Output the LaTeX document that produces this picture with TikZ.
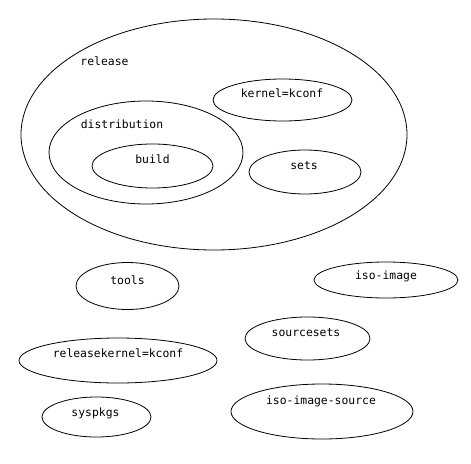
\documentclass[tikz,border=0pt]{standalone}
\usepackage{fontspec}
\setmonofont{DejaVu Sans Mono}
\usepackage{tikz}
\usetikzlibrary{shapes.geometric,positioning}

\begin{document}
\begin{tikzpicture}[
      x=1pt, y=-1pt,
      blob/.style={
          ellipse, draw=black, fill=none,
          line width=0.8pt, inner sep=0pt
      },
      lbl/.style={
          font=\ttfamily\fontsize{11.4}{12}\selectfont,
          inner sep=0pt, text height=8pt, text depth=2pt
      }
  ]
  \useasboundingbox (0,0) rectangle (471,463);

  % release and what it holds
  \node[blob, minimum width=386pt, minimum height=231pt] (release) at (214,134.5) {};
  \node[lbl] (releaseLbl) at (104.5,62) {release};
  \node[blob, minimum width=139pt, minimum height=42pt] (kernel) at (282.5,100) {};
  \node[lbl] (kernelLbl) at ([xshift=-0.5pt,yshift=6pt]kernel.center) {kernel=kconf};
  \node[blob, minimum width=194pt, minimum height=103pt] (distribution) at (146,152.5) {};
  \node[lbl] (distributionLbl) at (122,125) {distribution};
  \node[blob, minimum width=121pt, minimum height=44pt] (build) at (152.5,166) {};
  \node[lbl] (buildLbl) at ([yshift=6pt]build.center) {build};
  \node[blob, minimum width=112pt, minimum height=44pt] (sets) at (305,172) {};
  \node[lbl] (setsLbl) at ([xshift=-1pt,yshift=6pt]sets.center) {sets};

  % standalone targets
  \node[blob, minimum width=103pt, minimum height=47pt] (tools) at (127.5,286) {};
  \node[lbl] (toolsLbl) at ([yshift=5pt]tools.center) {tools};
  \node[blob, minimum width=144pt, minimum height=36pt] (isoimage) at (386,280) {};
  \node[lbl] (isoimageLbl) at ([yshift=4pt]isoimage.center) {iso-image};
  \node[blob, minimum width=125pt, minimum height=43pt] (sourcesets) at (307.5,338.5) {};
  \node[lbl] (sourcesetsLbl) at ([xshift=-1.5pt,yshift=5.5pt]sourcesets.center) {sourcesets};
  \node[blob, minimum width=198pt, minimum height=45pt] (relkernel) at (118,360.5) {};
  \node[lbl] (relkernelLbl) at ([yshift=6.5pt]relkernel.center) {releasekernel=kconf};
  \node[blob, minimum width=109pt, minimum height=40pt] (syspkgs) at (96.5,417) {};
  \node[lbl] (syspkgsLbl) at ([xshift=-1pt,yshift=4pt]syspkgs.center) {syspkgs};
  \node[blob, minimum width=182pt, minimum height=55pt] (isosource) at (322,411.5) {};
  \node[lbl] (isosourceLbl) at ([xshift=-1pt,yshift=10.5pt]isosource.center) {iso-image-source};
\end{tikzpicture}
\end{document}
